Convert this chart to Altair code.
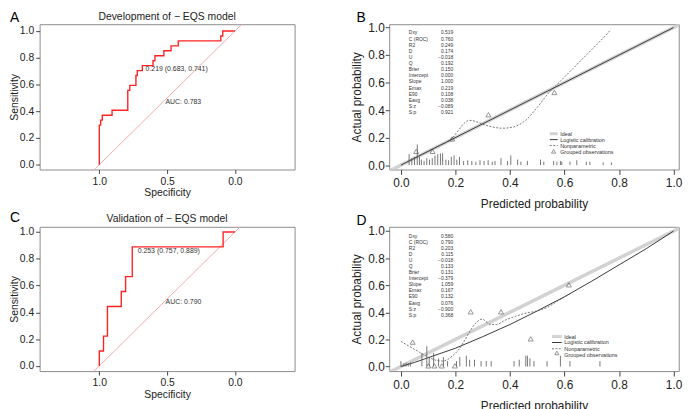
import altair as alt
import pandas as pd

FONT = "Liberation Sans"

# ---------------- Panel A: ROC (development) ----------------
rocA_spec = [1.0, 1.0, 0.99, 0.99, 0.978, 0.978, 0.906, 0.906, 0.79, 0.79, 0.775, 0.775,
             0.73, 0.73, 0.72, 0.72, 0.683, 0.683, 0.604, 0.604, 0.59, 0.59, 0.524, 0.524,
             0.471, 0.471, 0.418, 0.418, 0.104, 0.104, 0.09, 0.09, 0.0]
rocA_sens = [0.0, 0.296, 0.296, 0.333, 0.333, 0.370, 0.370, 0.407, 0.407, 0.556, 0.556, 0.593,
             0.593, 0.667, 0.667, 0.704, 0.704, 0.741, 0.741, 0.778, 0.778, 0.815, 0.815, 0.852,
             0.852, 0.889, 0.889, 0.926, 0.926, 0.963, 0.963, 1.0, 1.0]
rocA_notes = ["0.219 (0.683, 0.741)", "AUC: 0.783"]
rocA_note_x = [0.659, 0.512]
rocA_note_y = [0.715, 0.469]

# ---------------- Panel C: ROC (validation) ----------------
rocC_spec = [1.0, 1.0, 0.969, 0.969, 0.94, 0.94, 0.838, 0.838, 0.806, 0.806, 0.757, 0.757,
             0.087, 0.087, 0.0]
rocC_sens = [0.0, 0.111, 0.111, 0.222, 0.222, 0.444, 0.444, 0.556, 0.556, 0.667, 0.667, 0.889,
             0.889, 1.0, 1.0]
rocC_notes = ["0.253 (0.757, 0.889)", "AUC: 0.790"]
rocC_note_x = [0.717, 0.511]
rocC_note_y = [0.861, 0.480]

# ---------------- Calibration statistics ----------------
stat_names = ["Dxy", "C (ROC)", "R2", "D", "U", "Q", "Brier", "Intercept", "Slope",
              "Emax", "E90", "Eavg", "S:z", "S:p"]
calB_vals = ["0.519", "0.760", "0.249", "0.174", "\u22120.018", "0.192", "0.150", "0.000",
             "1.000", "0.219", "0.108", "0.038", "\u22120.089", "0.921"]
calD_vals = ["0.580", "0.790", "0.203", "0.115", "\u22120.018", "0.133", "0.131", "\u22120.379",
             "1.059", "0.167", "0.132", "0.076", "\u22120.900", "0.368"]
legend_labels = ["Ideal", "Logistic calibration", "Nonparametric", "Grouped observations"]

# ---------------- Panel B: calibration (development) ----------------
calB_np_x = [0.035, 0.06, 0.10, 0.14, 0.17, 0.19, 0.21, 0.23, 0.25, 0.27, 0.29, 0.32, 0.35,
             0.37, 0.40, 0.43, 0.46, 0.50, 0.54, 0.58, 0.62, 0.66, 0.70, 0.74, 0.77]
calB_np_y = [0.035, 0.06, 0.10, 0.14, 0.17, 0.20, 0.25, 0.30, 0.325, 0.32, 0.305, 0.285, 0.272,
             0.268, 0.272, 0.29, 0.33, 0.42, 0.52, 0.60, 0.68, 0.76, 0.84, 0.92, 0.985]
calB_log_x = [0.0, 1.0]
calB_log_y = [0.0, 1.0]
calB_grp_x = [0.056, 0.116, 0.188, 0.321, 0.563]
calB_grp_y = [0.100, 0.100, 0.190, 0.366, 0.528]
calB_rug_x = [0.030, 0.040, 0.050, 0.060, 0.068, 0.075, 0.085, 0.095, 0.105, 0.115, 0.125,
              0.135, 0.145, 0.153, 0.165, 0.175, 0.185, 0.195, 0.205, 0.215, 0.230, 0.245,
              0.260, 0.275, 0.290, 0.305, 0.320, 0.335, 0.345, 0.367, 0.391, 0.403, 0.428,
              0.440, 0.464, 0.512, 0.524, 0.560, 0.572, 0.585, 0.590, 0.620, 0.645, 0.680,
              0.693, 0.742, 0.772]
calB_rug_h = [0.08, 0.05, 0.06, 0.15, 0.06, 0.04, 0.03, 0.05, 0.04, 0.05, 0.07,
              0.08, 0.085, 0.085, 0.04, 0.035, 0.06, 0.07, 0.04, 0.06, 0.03, 0.035,
              0.03, 0.025, 0.035, 0.03, 0.035, 0.025, 0.03, 0.05, 0.03, 0.07, 0.04,
              0.025, 0.03, 0.04, 0.025, 0.03, 0.025, 0.03, 0.025, 0.025, 0.035, 0.025,
              0.025, 0.02, 0.02]

# ---------------- Panel D: calibration (validation) ----------------
calD_np_x = [0.0, 0.03, 0.06, 0.09, 0.11, 0.13, 0.15, 0.17, 0.19, 0.21, 0.23, 0.25, 0.27,
             0.29, 0.30, 0.31, 0.33, 0.35, 0.38, 0.42, 0.46, 0.50, 0.54, 0.58, 0.62]
calD_np_y = [0.185, 0.15, 0.115, 0.08, 0.06, 0.045, 0.04, 0.05, 0.08, 0.12, 0.18, 0.25, 0.31,
             0.345, 0.35, 0.335, 0.31, 0.31, 0.34, 0.37, 0.395, 0.41, 0.44, 0.49, 0.535]
calD_log_x = [0.0, 0.05, 0.1, 0.15, 0.2, 0.3, 0.4, 0.5, 0.6, 0.7, 0.8, 0.9, 1.0]
calD_log_y = [0.0, 0.03, 0.065, 0.10, 0.135, 0.22, 0.31, 0.41, 0.515, 0.63, 0.75, 0.87, 1.0]
calD_grp_x = [0.043, 0.101, 0.123, 0.150, 0.198, 0.256, 0.367, 0.476, 0.616]
calD_grp_y = [0.180, 0.005, 0.005, 0.005, 0.005, 0.404, 0.404, 0.204, 0.603]
calD_rug_x = [0.000, 0.011, 0.019, 0.027, 0.035, 0.077, 0.095, 0.104, 0.120, 0.138, 0.156,
              0.171, 0.204, 0.216, 0.240, 0.252, 0.270, 0.294, 0.313, 0.331, 0.415, 0.434,
              0.458, 0.464, 0.473, 0.488, 0.536, 0.585, 0.620, 0.730]
calD_rug_h = [0.04, 0.025, 0.03, 0.025, 0.03, 0.10, 0.15, 0.07, 0.10, 0.06, 0.07,
              0.04, 0.04, 0.07, 0.08, 0.05, 0.05, 0.04, 0.04, 0.04, 0.04, 0.05,
              0.08, 0.08, 0.06, 0.04, 0.04, 0.08, 0.04, 0.04]


def axis(title, values, size, tick, lpad, tpad):
    return alt.Axis(title=title, values=values, format=".1f", grid=False, domain=False,
                    tickSize=tick, tickColor="#444", labelPadding=lpad, titlePadding=tpad,
                    labelFont=FONT, titleFont=FONT, labelFontSize=size, titleFontSize=size,
                    labelColor="#222", titleColor="#222", titleFontWeight="normal",
                    labelFlush=False, labelOverlap=False, labelBound=False)


def label_layer(text, lx, ly, size, align, baseline, color):
    return alt.Chart(pd.DataFrame({"t": [text]})).mark_text(
        align=align, baseline=baseline, fontSize=size, font=FONT, color=color
    ).encode(x=alt.value(lx), y=alt.value(ly), text="t:N")


def roc_panel(spec, sens, notes, nx, ny, ydom, title, letter, lx, ly, w, h):
    xs = alt.Scale(domain=[-0.44, 1.44], reverse=True, nice=False, zero=False)
    ys = alt.Scale(domain=ydom, nice=False, zero=False)
    ticks = [0.0, 0.2, 0.4, 0.6, 0.8, 1.0]
    ax_x = axis("Specificity", [1.0, 0.5, 0.0], 10.5, 4, 3, 1)
    ax_y = axis("Sensitivity", ticks, 10.5, 4, 2, 0)

    def X():
        return alt.X("x:Q", scale=xs, axis=ax_x)

    def Y():
        return alt.Y("y:Q", scale=ys, axis=ax_y)

    diag = pd.DataFrame({"x": [1.2, -0.2], "y": [-0.2, 1.2]})
    diag_l = alt.Chart(diag).mark_line(color="#f4a0a0", strokeWidth=0.9, clip=True).encode(
        x=X(), y=Y())
    df = pd.DataFrame({"x": spec, "y": sens, "i": list(range(len(spec)))})
    curve = alt.Chart(df).mark_line(color="#ff2424", strokeWidth=1.4).encode(
        x=X(), y=Y(), order="i:Q")
    ndf = pd.DataFrame({"x": nx, "y": ny, "t": notes})
    note = alt.Chart(ndf).mark_text(align="left", baseline="middle", fontSize=7, font=FONT,
                                    color="#333").encode(x=X(), y=Y(), text="t:N")
    return alt.layer(diag_l, curve, note,
                     label_layer(letter, lx, ly, 14, "left", "top", "black"),
                     label_layer(title, w / 2, -2.5, 10.5, "center", "bottom", "#222")
                     ).properties(width=w, height=h)


def cal_panel(np_x, np_y, log_x, log_y, grp_x, grp_y, rug_x, rug_h, vals,
              st_y0, st_dy, st_xl, st_xr, lg_x1, lg_x2, lg_tx, lg_y, lg_tri,
              ydom, letter, lx, ly, w, h):
    xs = alt.Scale(domain=[-0.043, 1.019], nice=False, zero=False)
    ys = alt.Scale(domain=ydom, nice=False, zero=False)
    ticks = [0.0, 0.2, 0.4, 0.6, 0.8, 1.0]
    ax_x = axis("Predicted probability", ticks, 12, 5, 3.5, 10)
    ax_y = axis("Actual probability", ticks, 12, 4, 1, 4)

    def X(f="x"):
        return alt.X(f + ":Q", scale=xs, axis=ax_x)

    def Y(f="y"):
        return alt.Y(f + ":Q", scale=ys, axis=ax_y)

    ideal = alt.Chart(pd.DataFrame({"x": [-0.2, 1.2], "y": [-0.2, 1.2]})).mark_line(
        color="#d2d2d2", strokeWidth=3.5, clip=True).encode(x=X(), y=Y())
    logi = alt.Chart(pd.DataFrame({"x": log_x, "y": log_y})).mark_line(
        color="#3a3a3a", strokeWidth=1.0).encode(x=X(), y=Y())
    nonp = alt.Chart(pd.DataFrame({"x": np_x, "y": np_y})).mark_line(
        color="#555", strokeWidth=0.8, strokeDash=[2, 1.5], interpolate="monotone").encode(
        x=X(), y=Y())
    rug = alt.Chart(pd.DataFrame({"x": rug_x, "y": [0.0] * len(rug_x), "h": rug_h})).mark_rule(
        color="#555", strokeWidth=0.8).encode(x=X(), y=Y(), y2="h:Q")
    grp = alt.Chart(pd.DataFrame({"x": grp_x, "y": grp_y})).mark_point(
        shape="triangle-up", filled=False, size=26, color="#444", strokeWidth=0.8).encode(
        x=X(), y=Y())
    sy = [st_y0 - i * st_dy for i in range(len(stat_names))]
    st_l = alt.Chart(pd.DataFrame({"x": [st_xl] * len(sy), "y": sy, "t": stat_names})).mark_text(
        align="left", baseline="middle", fontSize=5, font=FONT, color="#333").encode(
        x=X(), y=Y(), text="t:N")
    st_r = alt.Chart(pd.DataFrame({"x": [st_xr] * len(sy), "y": sy, "t": vals})).mark_text(
        align="right", baseline="middle", fontSize=5, font=FONT, color="#333").encode(
        x=X(), y=Y(), text="t:N")
    lg_ideal = alt.Chart(pd.DataFrame({"x": [lg_x1], "x2": [lg_x2], "y": [lg_y[0]]})).mark_rule(
        color="#d2d2d2", strokeWidth=3).encode(x=X(), x2="x2:Q", y=Y())
    lg_log = alt.Chart(pd.DataFrame({"x": [lg_x1], "x2": [lg_x2], "y": [lg_y[1]]})).mark_rule(
        color="#3a3a3a", strokeWidth=1).encode(x=X(), x2="x2:Q", y=Y())
    lg_np = alt.Chart(pd.DataFrame({"x": [lg_x1], "x2": [lg_x2], "y": [lg_y[2]]})).mark_rule(
        color="#555", strokeWidth=0.8, strokeDash=[2, 1.5]).encode(x=X(), x2="x2:Q", y=Y())
    lg_tri_l = alt.Chart(pd.DataFrame({"x": [lg_tri[0]], "y": [lg_tri[1]]})).mark_point(
        shape="triangle-up", filled=False, size=18, color="#444", strokeWidth=0.8).encode(
        x=X(), y=Y())
    lg_txt = alt.Chart(pd.DataFrame({"x": [lg_tx] * 4, "y": lg_y, "t": legend_labels})).mark_text(
        align="left", baseline="middle", fontSize=5.5, font=FONT, color="#333").encode(
        x=X(), y=Y(), text="t:N")
    return alt.layer(ideal, logi, nonp, rug, grp, st_l, st_r, lg_ideal, lg_log, lg_np,
                     lg_tri_l, lg_txt,
                     label_layer(letter, lx, ly, 14, "left", "top", "black")
                     ).properties(width=w, height=h)


A = roc_panel(rocA_spec, rocA_sens, rocA_notes, rocA_note_x, rocA_note_y, [-0.036, 1.051],
              "Development of \u2212 EQS model", "A", -30, -13, 258, 147)
B = cal_panel(calB_np_x, calB_np_y, calB_log_x, calB_log_y, calB_grp_x, calB_grp_y,
              calB_rug_x, calB_rug_h, calB_vals, 0.964, 0.0445, 0.029, 0.192,
              0.546, 0.575, 0.584, [0.228, 0.185, 0.142, 0.096], [0.56, 0.10],
              [-0.032, 1.024], "B", -33, -13, 293, 147)
C = roc_panel(rocC_spec, rocC_sens, rocC_notes, rocC_note_x, rocC_note_y, [-0.039, 1.039],
              "Validation of \u2212 EQS model", "C", -30, -16, 258, 146)
D = cal_panel(calD_np_x, calD_np_y, calD_log_x, calD_log_y, calD_grp_x, calD_grp_y,
              calD_rug_x, calD_rug_h, calD_vals, 0.966, 0.0449, 0.029, 0.192,
              0.554, 0.590, 0.599, [0.221, 0.177, 0.131, 0.082], [0.572, 0.10],
              [-0.034, 1.031], "D", -33, -13, 293, 146)

chart = alt.concat(A, B, C, D, columns=2, spacing={"row": 58, "column": 95.7},
                   bounds="flush").properties(
    padding=0, background="white"
).configure_view(stroke="#8c8c8c", strokeWidth=1)

chart.save("out.html", embed_options={"renderer": "svg", "actions": False})
